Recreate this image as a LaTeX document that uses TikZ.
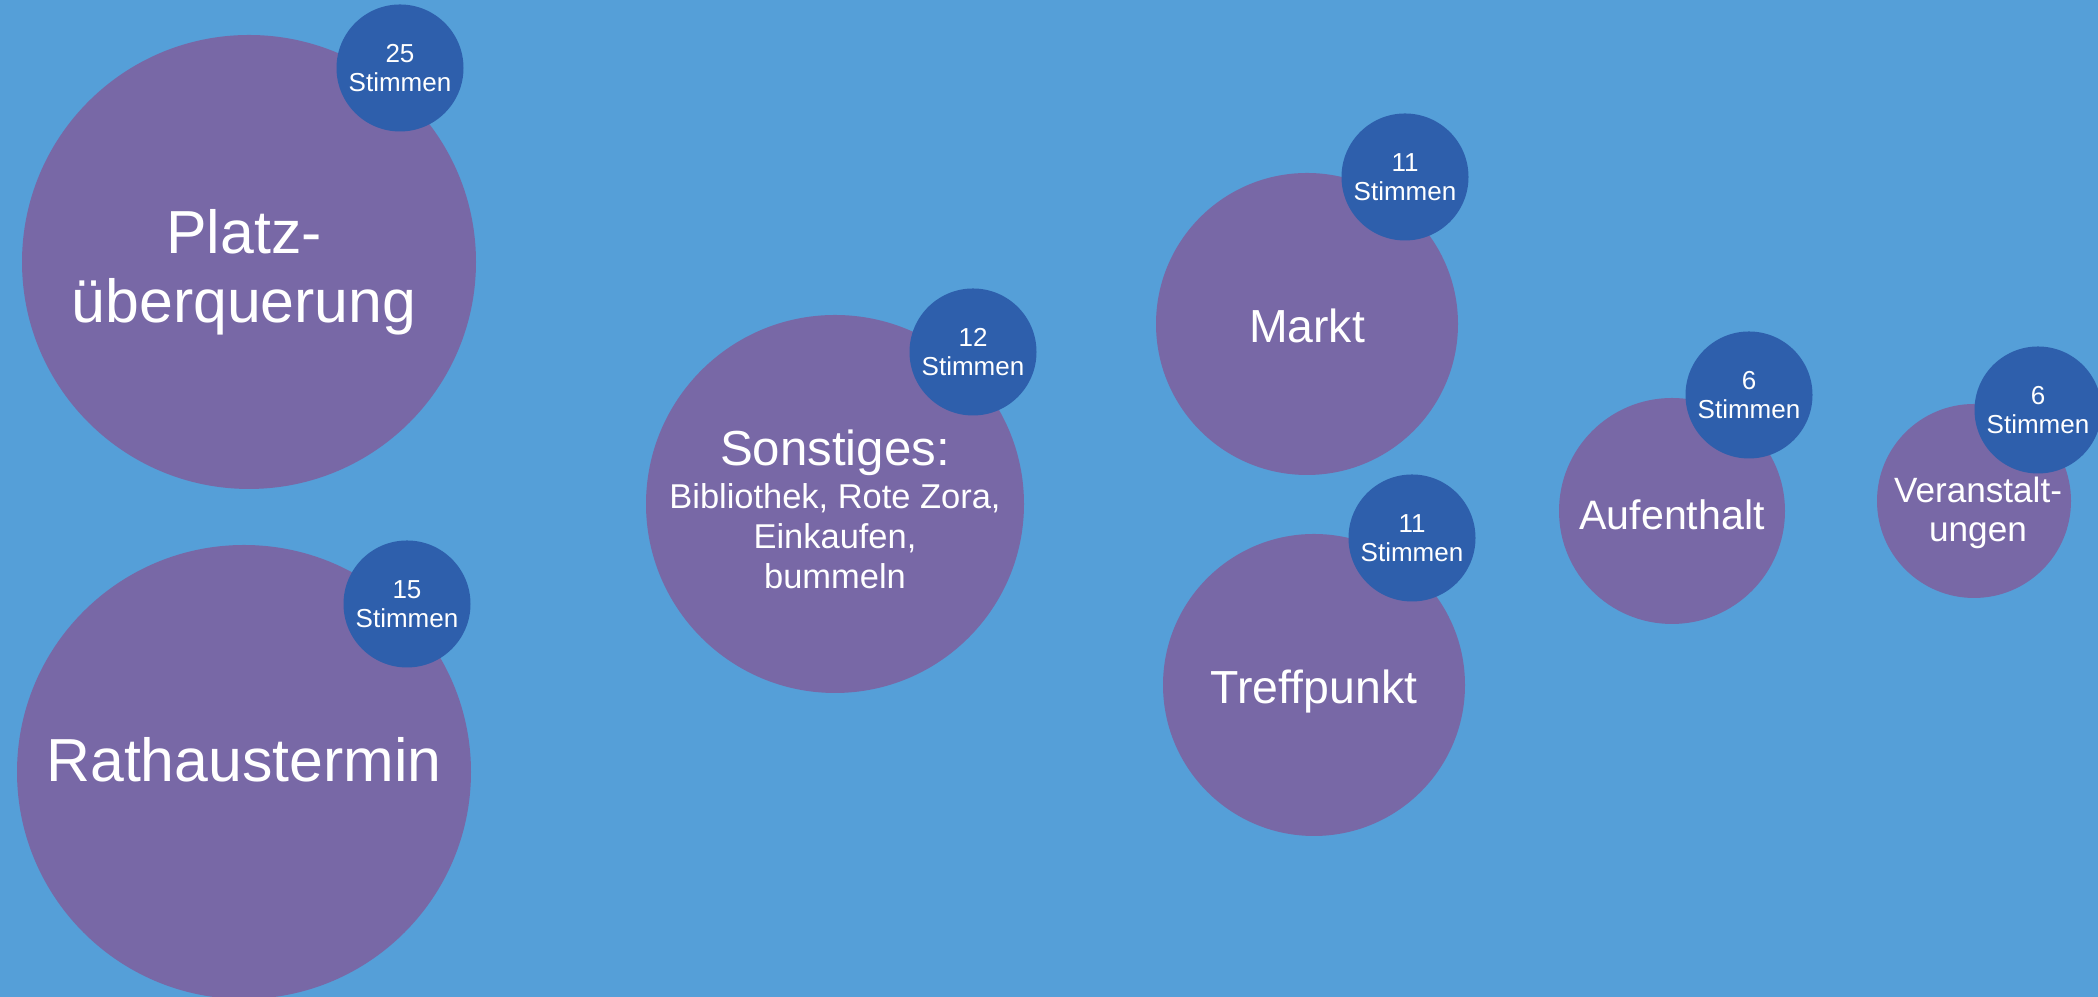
\documentclass[tikz,border=0pt]{standalone}
\usepackage{fontspec}
\setmainfont{Liberation Sans}
\usepackage{tikz}
\usetikzlibrary{shapes,calc}
\definecolor{backblue}{RGB}{85,159,216}
\definecolor{topicpurple}{RGB}{120,104,166}
\definecolor{votesblue}{RGB}{46,95,172}
\tikzstyle{topic} = [circle, fill=topicpurple, inner sep=0pt]
\tikzstyle{topiclabel} = [text=white, align=center, inner sep=0pt]
\tikzstyle{votes} = [circle, fill=votesblue, text=white, align=center, inner sep=0pt,
    minimum size=1.27cm, font=\fontsize{7.4pt}{8.3pt}\selectfont]

\begin{document}
\begin{tikzpicture}
    % Background
    \fill [backblue] (0,0) rectangle (20.98,9.97);
    \useasboundingbox (0,0) rectangle (20.98,9.97);
    % Place topics
    \node [topic, minimum size=4.54cm] (platz) at (2.49,7.35) {};
    \node [topic, minimum size=4.54cm] (rathaus) at (2.44,2.25) {};
    \node [topic, minimum size=3.78cm] (sonstiges) at (8.35,4.93) {};
    \node [topic, minimum size=3.02cm] (markt) at (13.07,6.73) {};
    \node [topic, minimum size=3.02cm] (treffpunkt) at (13.14,3.12) {};
    \node [topic, minimum size=2.26cm] (aufenthalt) at (16.72,4.86) {};
    \node [topic, minimum size=1.94cm] (veranstaltungen) at (19.74,4.96) {};
    % Topic labels
    \node [topiclabel, font=\fontsize{17.3pt}{19.6pt}\selectfont] (platzlabel) at ([xshift=-0.05cm, yshift=-0.10cm]platz) {Platz-\\überquerung};
    \node [topiclabel, font=\fontsize{17.3pt}{19.6pt}\selectfont] (rathauslabel) at ([yshift=0.12cm]rathaus) {Rathaustermin};
    \node [topiclabel, font=\fontsize{9.8pt}{11.4pt}\selectfont] (sonstigeslabel) at ([yshift=-0.055cm]sonstiges) {{\fontsize{14pt}{16pt}\selectfont Sonstiges:}\\[1pt]Bibliothek, Rote Zora,\\Einkaufen,\\bummeln};
    \node [topiclabel, font=\fontsize{13.2pt}{15pt}\selectfont] (marktlabel) at ([yshift=-0.015cm]markt) {Markt};
    \node [topiclabel, font=\fontsize{13.2pt}{15pt}\selectfont] (treffpunktlabel) at ([yshift=-0.065cm]treffpunkt) {Treffpunkt};
    \node [topiclabel, font=\fontsize{11.7pt}{13pt}\selectfont] (aufenthaltlabel) at ([yshift=-0.035cm]aufenthalt) {Aufenthalt};
    \node [topiclabel, font=\fontsize{10pt}{11.1pt}\selectfont] (veranstaltungenlabel) at ([xshift=0.04cm, yshift=-0.117cm]veranstaltungen) {Veranstalt-\\ungen};
    % Place votes
    \node [votes] (platzvotes) at (4.00,9.29) {25\\Stimmen};
    \node [votes] (rathausvotes) at (4.07,3.93) {15\\Stimmen};
    \node [votes] (sonstigesvotes) at (9.73,6.45) {12\\Stimmen};
    \node [votes] (marktvotes) at (14.05,8.20) {11\\Stimmen};
    \node [votes] (treffpunktvotes) at (14.12,4.59) {11\\Stimmen};
    \node [votes] (aufenthaltvotes) at (17.49,6.02) {6\\Stimmen};
    \node [votes] (veranstaltungenvotes) at (20.38,5.87) {6\\Stimmen};
\end{tikzpicture}
\end{document}
